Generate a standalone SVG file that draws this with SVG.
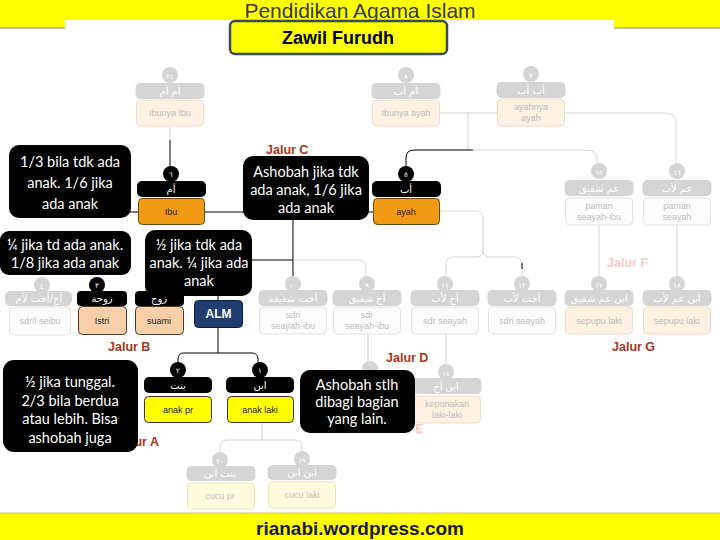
<svg xmlns="http://www.w3.org/2000/svg" width="720" height="540" viewBox="0 0 720 540">
<style>
.fh{fill:#d5d5d5}
.fb{fill:#fdf1e3;stroke:#eedcc6;stroke-width:1}
.fw{fill:#fcfcfc;stroke:#e2e2e2;stroke-width:1}
.fy{fill:#fffbdd;stroke:#eee6b6;stroke-width:1}
.ah{fill:#000}
.ob{fill:#f39a14;stroke:#6b4a10;stroke-width:1}
.pb{fill:#f8cfa8;stroke:#4a3a30;stroke-width:1}
.yb{fill:#ffff00;stroke:#333;stroke-width:1}
.ar{font-family:"DejaVu Sans",sans-serif;font-size:10px;fill:#fff;text-anchor:middle}
.num{font-family:"DejaVu Sans",sans-serif;font-size:7px;fill:#fff;text-anchor:middle}
.ft{font-family:"Liberation Sans",Arial,sans-serif;font-size:9px;fill:#bdbdbd;text-anchor:middle}
.at{font-family:"Liberation Sans",Arial,sans-serif;font-size:9px;fill:#222;text-anchor:middle}
.co{fill:#000}
.ct{font-family:Lato,"Liberation Sans",sans-serif;font-size:14.5px;fill:#fff;text-anchor:middle}
.j{font-family:"Liberation Sans",Arial,sans-serif;font-weight:bold;font-size:12.5px;fill:#a8381c}
.jf{font-family:"Liberation Sans",Arial,sans-serif;font-weight:bold;font-size:12.5px;fill:#f2cdc4}
.lg{stroke:#d3d3d3;stroke-width:1;fill:none}
.lb{stroke:#000;stroke-width:1;fill:none}
</style>
<rect x="0" y="0" width="720" height="540" fill="#fff"/>
<g id="banner-top">
<rect x="0" y="0" width="720" height="28" fill="#ffff00"/>
<line x1="0" y1="28" x2="720" y2="28" stroke="#8a8a60" stroke-width="1"/>
<rect x="65" y="20" width="549" height="12" fill="#fff"/>
<text x="360" y="18" font-family="Liberation Sans, Arial, sans-serif" font-size="21" fill="#3a3a2a" text-anchor="middle">Pendidikan Agama Islam</text>
</g>
<g id="title">
<rect x="230" y="21" width="217" height="33" rx="5" fill="#ffff00" stroke="#3a4a5a" stroke-width="2.5"/>
<text x="338" y="44" font-family="Liberation Sans, Arial, sans-serif" font-weight="bold" font-size="18" fill="#000" text-anchor="middle">Zawil Furudh</text>
</g>
<g id="banner-bottom">
<rect x="0" y="513" width="720" height="27" fill="#ffff00"/>
<line x1="0" y1="513" x2="720" y2="513" stroke="#c8c860" stroke-width="1"/>
<text x="360" y="535" font-family="Liberation Sans, Arial, sans-serif" font-weight="bold" font-size="19" fill="#1a1a1a" text-anchor="middle">rianabi.wordpress.com</text>
</g>

<g id="connectors">
<path class="lg" d="M170,127 V140"/>
<path class="lb" d="M170,140 V166"/>
<path class="lg" d="M440,113 H497"/>
<path class="lg" d="M468,113 V150"/>
<path class="lb" d="M406,166 V158 Q406,150 414,150 H473"/>
<path class="lg" d="M473,150 H587 Q597,150 597,160 V163"/>
<path class="lg" d="M565,113 H665 Q676,113 676,123 V163"/>
<path class="lb" d="M125,212 H373"/>
<path class="lg" d="M440,211 H475 Q483,211 483,219 V250 Q483,257 476,257 H453 Q446,257 446,265 V276"/>
<path class="lg" d="M483,250 Q483,257 490,257 H515 Q522,257 522,265 V276"/>
<path class="lb" d="M522,263 V269"/>
<path class="lb" d="M293,220 V260 M252,260 H293 V276"/>
<path class="lg" d="M293,260 H357 Q366,260 366,268 V276"/>
<path class="lg" d="M599,225 V276"/>
<path class="lg" d="M677,225 V276"/>
<path class="lg" d="M368,334 V361"/>
<path class="lg" d="M446,334 V364"/>
<path class="lb" d="M218,296 V300 M218,327 V353"/>
<path class="lb" d="M178,362 V359 Q178,353 184,353 H252 Q258,353 258,359 V362"/>
<path class="lg" d="M262,422 V440 M220,452 V447 Q220,440 228,440 H295 Q302,440 302,447 V451"/>
</g>

<g id="n21">
<circle cx="170" cy="75" r="8" class="fh"/>
<rect x="135.5" y="83" width="69" height="16" rx="5" class="fh"/>
<text x="170" y="79" class="num">٢١</text>
<text x="170" y="95" class="ar">أم أم</text>
<rect x="136.5" y="100" width="67" height="26" rx="4" class="fb"/>
<text x="170" y="116" class="ft">Ibunya Ibu</text>
</g>
<g id="n8">
<circle cx="406" cy="75" r="8" class="fh"/>
<rect x="371.5" y="83" width="69" height="16" rx="5" class="fh"/>
<text x="406" y="79" class="num">٨</text>
<text x="406" y="95" class="ar">أم أب</text>
<rect x="372.5" y="100" width="67" height="26" rx="4" class="fb"/>
<text x="406" y="116" class="ft">Ibunya ayah</text>
</g>
<g id="n7">
<circle cx="531" cy="74" r="8" class="fh"/>
<rect x="496.5" y="82" width="69" height="16" rx="5" class="fh"/>
<text x="531" y="78" class="num">٧</text>
<text x="531" y="94" class="ar">أب أب</text>
<rect x="497.5" y="99" width="67" height="27" rx="4" class="fb"/>
<text x="531" y="110" class="ft">ayahnya</text>
<text x="531" y="121" class="ft">ayah</text>
</g>
<g id="n15">
<circle cx="599" cy="171" r="8" class="fh"/>
<rect x="564.5" y="180" width="69" height="16" rx="5" class="fh"/>
<text x="599" y="175" class="num">١٥</text>
<text x="599" y="192" class="ar">عم شقيق</text>
<rect x="565.5" y="198" width="67" height="27" rx="4" class="fw"/>
<text x="599" y="209" class="ft">paman</text>
<text x="599" y="220" class="ft">seayah-ibu</text>
</g>
<g id="n16">
<circle cx="677" cy="171" r="8" class="fh"/>
<rect x="642.5" y="180" width="69" height="16" rx="5" class="fh"/>
<text x="677" y="175" class="num">١٦</text>
<text x="677" y="192" class="ar">عم لأب</text>
<rect x="643.5" y="198" width="67" height="27" rx="4" class="fw"/>
<text x="677" y="209" class="ft">paman</text>
<text x="677" y="220" class="ft">seayah</text>
</g>

<g id="n-seibu">
<circle cx="42" cy="285" r="8" class="fh"/>
<rect x="5" y="291" width="67" height="15" rx="5" class="fh"/>
<text x="42" y="289" class="num">٤</text>
<text x="39" y="302" class="ar">أخ/أخت لأم</text>
<rect x="9.5" y="307" width="61" height="28" rx="4" class="fw"/>
<text x="40" y="324" class="ft">sdr/i seibu</text>
</g>
<g id="n10">
<circle cx="293" cy="284" r="8" class="fh"/>
<rect x="258.5" y="290" width="69" height="16" rx="5" class="fh"/>
<text x="293" y="288" class="num">١٠</text>
<text x="293" y="302" class="ar">أخت شقيقة</text>
<rect x="259.5" y="307" width="67" height="27" rx="4" class="fw"/>
<text x="293" y="318" class="ft">sdri</text>
<text x="293" y="329" class="ft">seayah-ibu</text>
</g>
<g id="n9">
<circle cx="367" cy="284" r="8" class="fh"/>
<rect x="332.5" y="290" width="69" height="16" rx="5" class="fh"/>
<text x="367" y="288" class="num">٩</text>
<text x="367" y="302" class="ar">أخ شقيق</text>
<rect x="333.5" y="307" width="67" height="27" rx="4" class="fw"/>
<text x="367" y="318" class="ft">sdr</text>
<text x="367" y="329" class="ft">seayah-ibu</text>
</g>
<g id="n11">
<circle cx="445" cy="284" r="8" class="fh"/>
<rect x="410.5" y="290" width="69" height="16" rx="5" class="fh"/>
<text x="445" y="288" class="num">١١</text>
<text x="445" y="302" class="ar">أخ لأب</text>
<rect x="411.5" y="307" width="67" height="27" rx="4" class="fw"/>
<text x="445" y="324" class="ft">sdr seayah</text>
</g>
<g id="n12">
<circle cx="522" cy="284" r="8" class="fh"/>
<rect x="487.5" y="290" width="69" height="16" rx="5" class="fh"/>
<text x="522" y="288" class="num">١٢</text>
<text x="522" y="302" class="ar">أخت لأب</text>
<rect x="488.5" y="307" width="67" height="27" rx="4" class="fw"/>
<text x="522" y="324" class="ft">sdri seayah</text>
</g>
<g id="n17">
<circle cx="599" cy="284" r="8" class="fh"/>
<rect x="564.5" y="290" width="69" height="16" rx="5" class="fh"/>
<text x="599" y="288" class="num">١٧</text>
<text x="599" y="302" class="ar">ابن عم شقيق</text>
<rect x="565.5" y="307" width="67" height="27" rx="4" class="fb"/>
<text x="599" y="324" class="ft">sepupu laki</text>
</g>
<g id="n18">
<circle cx="677" cy="284" r="8" class="fh"/>
<rect x="642.5" y="290" width="69" height="16" rx="5" class="fh"/>
<text x="677" y="288" class="num">١٨</text>
<text x="677" y="302" class="ar">ابن عم لأب</text>
<rect x="643.5" y="307" width="67" height="27" rx="4" class="fb"/>
<text x="677" y="324" class="ft">sepupu laki</text>
</g>

<g id="n-hidden">
<circle cx="370" cy="369" r="8" class="fh"/>
</g>
<g id="n14">
<circle cx="446" cy="372" r="8" class="fh"/>
<rect x="411.5" y="378" width="70" height="16" rx="5" class="fh"/>
<text x="446" y="376" class="num">١٤</text>
<text x="446" y="390" class="ar">ابن أخ</text>
<rect x="414.5" y="396" width="66" height="27" rx="4" class="fb"/>
<text x="447" y="407" class="ft">keponakan</text>
<text x="447" y="418" class="ft">laki-laki</text>
</g>
<g id="n20">
<circle cx="220" cy="460" r="8" class="fh"/>
<rect x="186.5" y="466" width="69" height="15" rx="5" class="fh"/>
<text x="220" y="464" class="num">٢٠</text>
<text x="220" y="477" class="ar">بنت ابن</text>
<rect x="187.5" y="483" width="67" height="26" rx="4" class="fy"/>
<text x="220" y="499" class="ft">cucu pr</text>
</g>
<g id="n19">
<circle cx="302" cy="459" r="8" class="fh"/>
<rect x="267.5" y="465" width="69" height="15" rx="5" class="fh"/>
<text x="302" y="463" class="num">١٩</text>
<text x="302" y="476" class="ar">ابن ابن</text>
<rect x="268.5" y="482" width="67" height="26" rx="4" class="fy"/>
<text x="302" y="498" class="ft">cucu laki</text>
</g>

<g id="n6-ibu">
<circle cx="171" cy="174" r="8" class="ah"/>
<text x="171" y="177" class="num">٦</text>
<rect x="137" y="181" width="69" height="16" rx="5" class="ah"/>
<text x="171" y="193" class="ar">أم</text>
<rect x="138.5" y="198.5" width="66" height="26" rx="4" class="ob"/>
<text x="171" y="215" class="at">Ibu</text>
</g>
<g id="n5-ayah">
<circle cx="406" cy="174" r="8" class="ah"/>
<text x="406" y="177" class="num">٥</text>
<rect x="372" y="181" width="69" height="16" rx="5" class="ah"/>
<text x="406" y="193" class="ar">أب</text>
<rect x="373.5" y="198.5" width="66" height="26" rx="4" class="ob"/>
<text x="406" y="215" class="at">ayah</text>
</g>
<g id="n3-istri">
<circle cx="97" cy="285" r="8" class="ah"/>
<text x="97" y="288" class="num">٣</text>
<rect x="77" y="291" width="50" height="15" rx="4" class="ah"/>
<text x="102" y="302" class="ar">زوجة</text>
<rect x="78.5" y="306.5" width="48" height="28" rx="4" class="pb"/>
<text x="102" y="324" class="at">Istri</text>
</g>
<g id="n-suami">
<circle cx="159" cy="285" r="8" class="ah"/>
<rect x="135" y="291" width="49" height="15" rx="4" class="ah"/>
<text x="159" y="302" class="ar">زوج</text>
<rect x="135.5" y="306.5" width="48" height="28" rx="4" class="pb"/>
<text x="159" y="324" class="at">suami</text>
</g>
<g id="alm">
<rect x="194.5" y="300.5" width="48" height="27" rx="4" fill="#1f3d6e" stroke="#0c1c3c" stroke-width="1"/>
<text x="218.5" y="318" font-family="Liberation Sans, Arial, sans-serif" font-weight="bold" font-size="12" fill="#fff" text-anchor="middle">ALM</text>
</g>
<g id="n2-anakpr">
<circle cx="178" cy="370" r="8" class="ah"/>
<text x="178" y="373" class="num">٢</text>
<rect x="144" y="377" width="68" height="16" rx="5" class="ah"/>
<text x="178" y="389" class="ar">بنت</text>
<rect x="144.5" y="396.5" width="67" height="26" rx="4" class="yb"/>
<text x="178" y="413" class="at">anak pr</text>
</g>
<g id="n1-anaklaki">
<circle cx="260" cy="370" r="8" class="ah"/>
<text x="260" y="373" class="num">١</text>
<rect x="226" y="377" width="68" height="16" rx="5" class="ah"/>
<text x="260" y="389" class="ar">ابن</text>
<rect x="227.5" y="396.5" width="66" height="26" rx="4" class="yb"/>
<text x="260" y="413" class="at">anak laki</text>
</g>

<g id="labels">
<text x="266" y="154" class="j">Jalur C</text>
<text x="607" y="267" class="jf">Jalur F</text>
<text x="108" y="351" class="j">Jalur B</text>
<text x="386" y="362" class="j">Jalur D</text>
<text x="612" y="351" class="j">Jalur G</text>
<text x="117" y="446" class="j">Jalur A</text>
<text x="382" y="433" class="jf">Jalur E</text>
</g>

<g id="callout-ibu">
<rect x="9" y="145" width="122" height="73" rx="10" class="co"/>
<text x="70" y="167" class="ct">1/3 bila tdk ada</text>
<text x="70" y="188" class="ct">anak. 1/6 jika</text>
<text x="70" y="209" class="ct">ada anak</text>
</g>
<g id="callout-ayah">
<rect x="243" y="156" width="126" height="64" rx="10" class="co"/>
<text x="306" y="177" class="ct">Ashobah jika tdk</text>
<text x="306" y="195" class="ct">ada anak, 1/6 jika</text>
<text x="306" y="213" class="ct">ada anak</text>
</g>
<g id="callout-istri">
<rect x="0" y="231" width="131" height="44" rx="9" class="co"/>
<text x="65" y="250" class="ct">¼ jika td ada anak.</text>
<text x="65" y="268" class="ct">1/8 jika ada anak</text>
</g>
<g id="callout-suami">
<rect x="145" y="230" width="107" height="66" rx="10" class="co"/>
<text x="199" y="250" class="ct">½ jika tdk ada</text>
<text x="199" y="268" class="ct">anak. ¼ jika ada</text>
<text x="199" y="286" class="ct">anak</text>
</g>
<g id="callout-anakpr">
<rect x="3" y="360" width="135" height="92" rx="11" class="co"/>
<text x="70" y="387" class="ct">½ jika tunggal.</text>
<text x="70" y="406" class="ct">2/3 bila berdua</text>
<text x="70" y="424" class="ct">atau lebih. Bisa</text>
<text x="70" y="443" class="ct">ashobah juga</text>
</g>
<g id="callout-anaklaki">
<rect x="300" y="370" width="115" height="63" rx="10" class="co"/>
<text x="357" y="390" class="ct" font-size="13.5">Ashobah stlh</text>
<text x="357" y="407" class="ct" font-size="13.5">dibagi bagian</text>
<text x="357" y="424" class="ct" font-size="13.5">yang lain.</text>
</g>
</svg>
